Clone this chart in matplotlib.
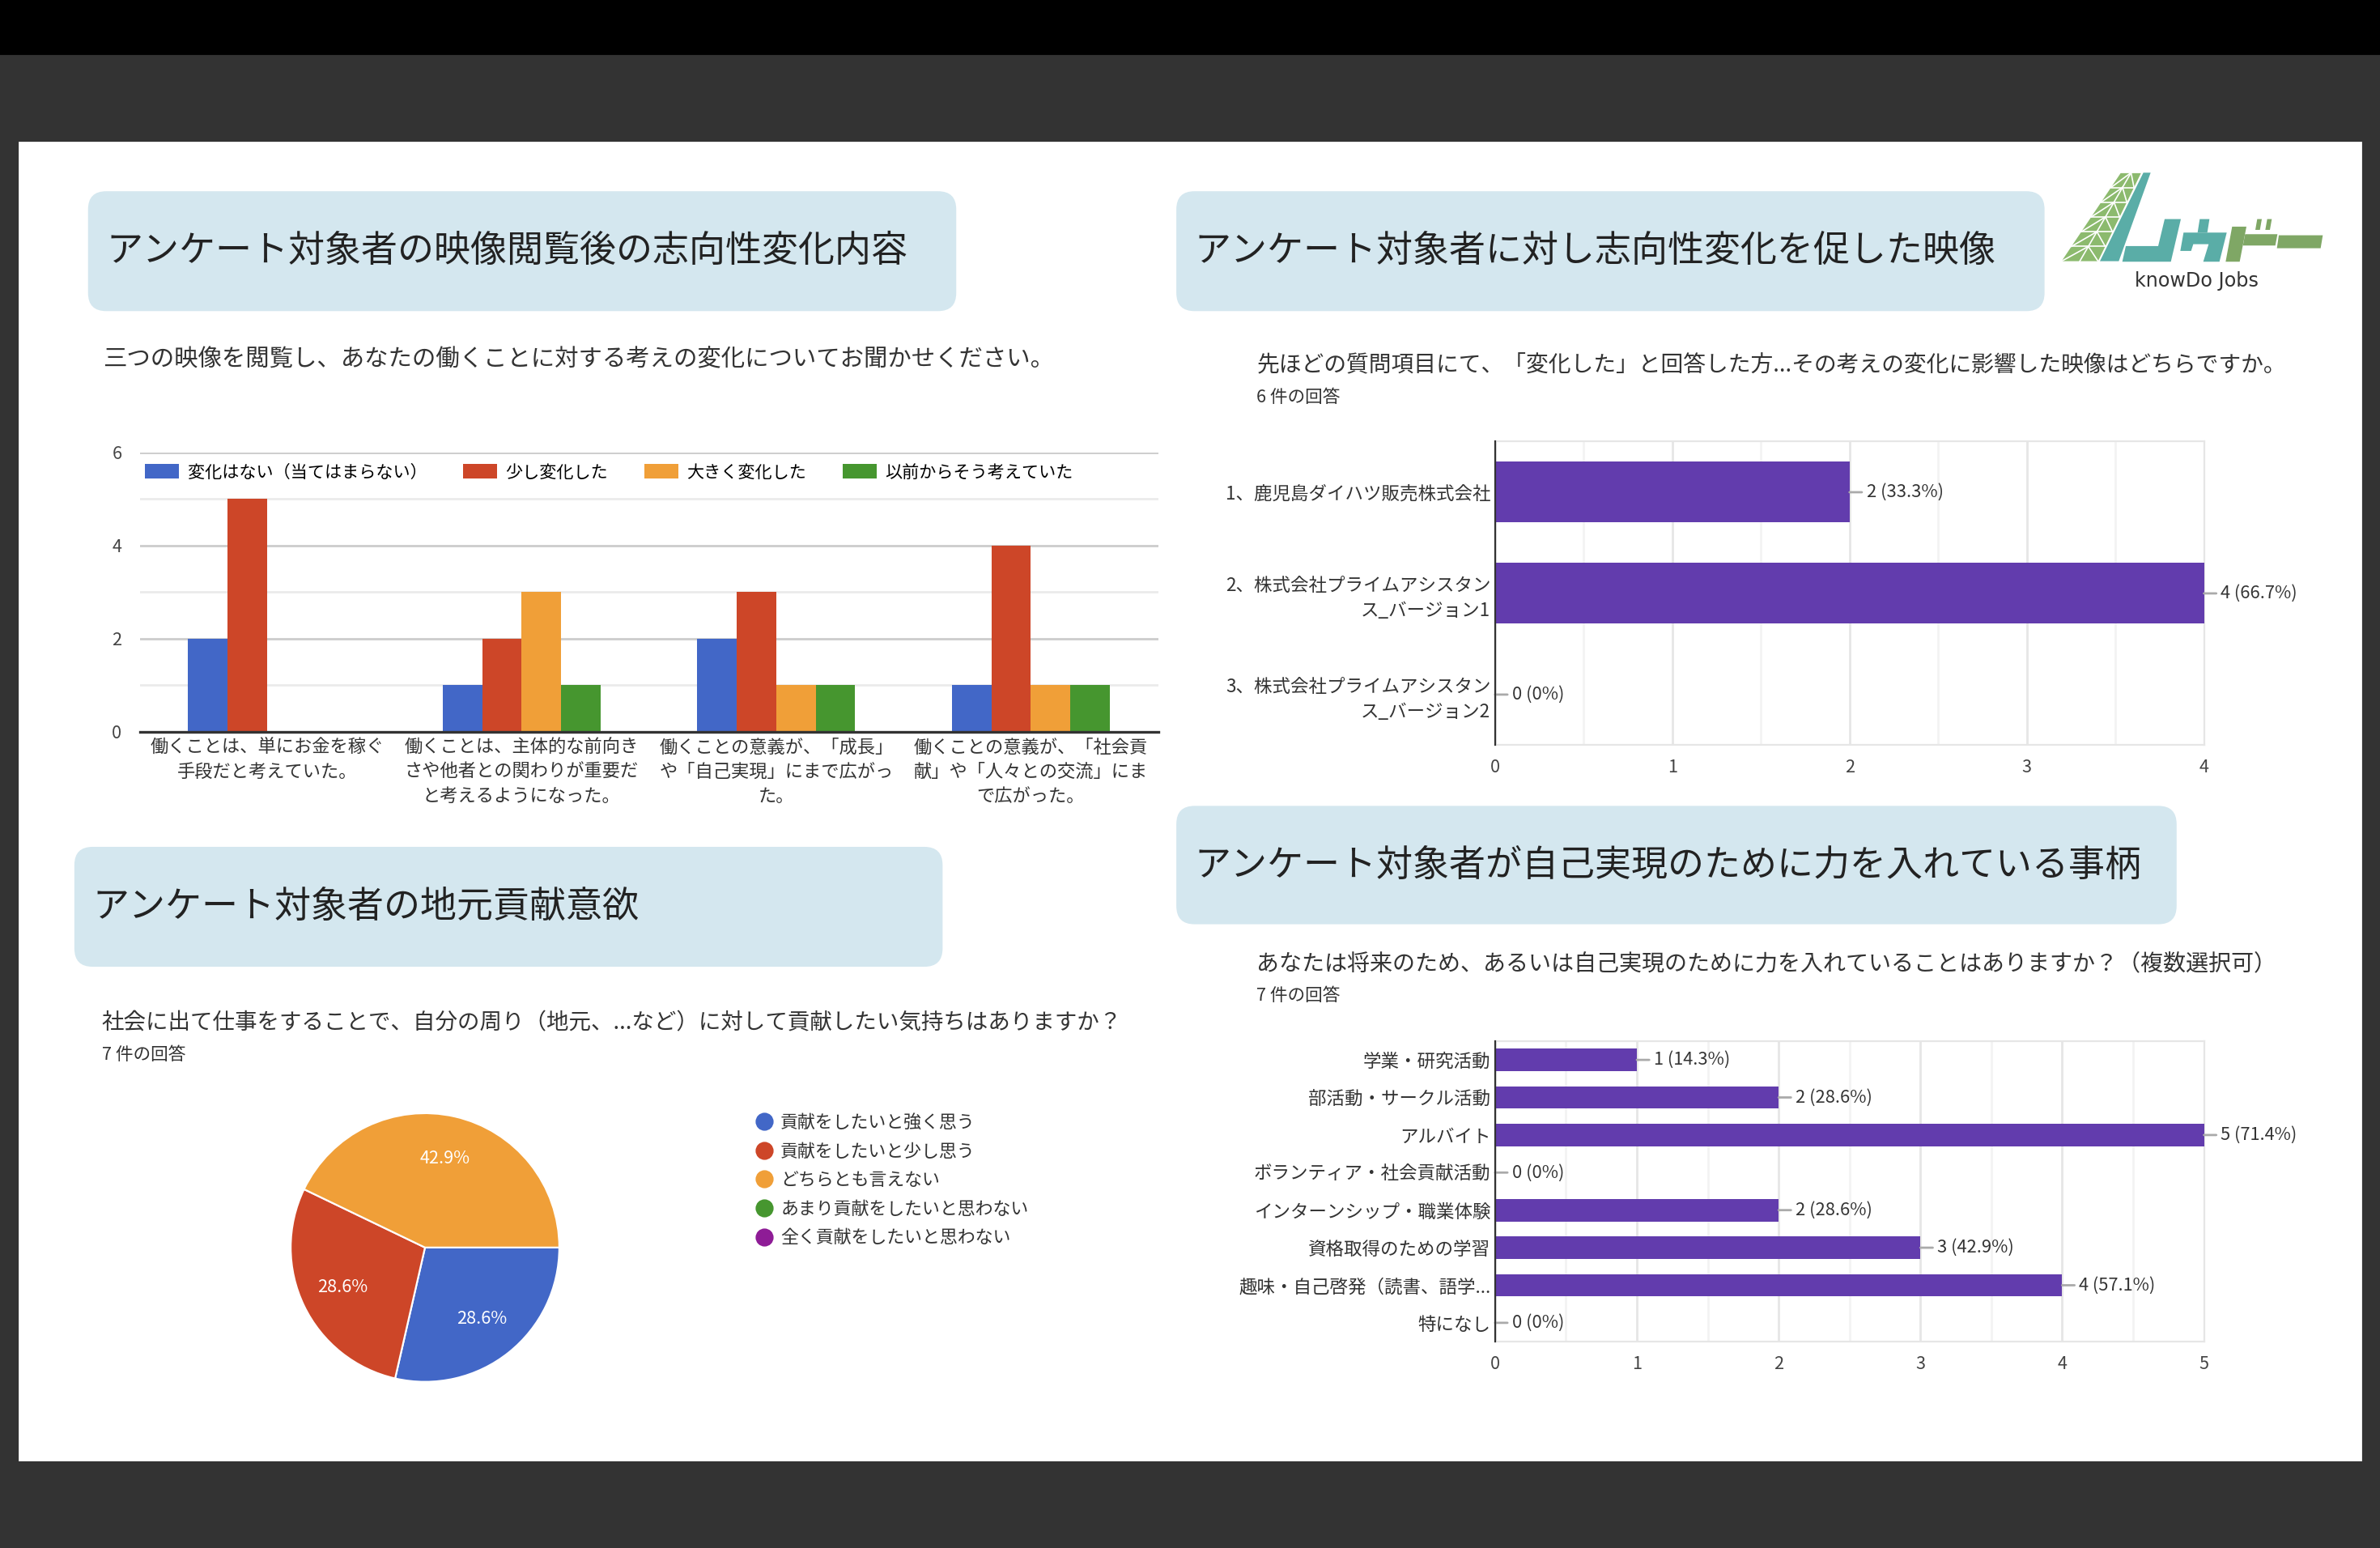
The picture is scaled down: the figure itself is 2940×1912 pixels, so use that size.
import matplotlib
matplotlib.use('Agg')
import matplotlib.pyplot as plt
from matplotlib.patches import FancyBboxPatch, Rectangle, Polygon
from matplotlib.lines import Line2D
import numpy as np

plt.rcParams['font.family'] = ['Noto Sans CJK JP', 'DejaVu Sans']

# ---- data ----
change_cats = ['働くことは、単にお金を稼ぐ\n手段だと考えていた。',
               '働くことは、主体的な前向き\nさや他者との関わりが重要だ\nと考えるようになった。',
               '働くことの意義が、「成長」\nや「自己実現」にまで広がっ\nた。',
               '働くことの意義が、「社会貢\n献」や「人々との交流」にま\nで広がった。']
change_series = ['変化はない（当てはまらない）', '少し変化した', '大きく変化した', '以前からそう考えていた']
change_none = [2, 1, 2, 1]
change_little = [5, 2, 3, 4]
change_big = [0, 3, 1, 1]
change_before = [0, 1, 1, 1]

video_cats = ['1、鹿児島ダイハツ販売株式会社',
              '2、株式会社プライムアシスタン\nス_バージョン1',
              '3、株式会社プライムアシスタン\nス_バージョン2']
video_counts = [2, 4, 0]
video_total = 6

effort_cats = ['学業・研究活動', '部活動・サークル活動', 'アルバイト', 'ボランティア・社会貢献活動',
               'インターンシップ・職業体験', '資格取得のための学習', '趣味・自己啓発（読書、語学...', '特になし']
effort_counts = [1, 2, 5, 0, 2, 3, 4, 0]
effort_total = 7

local_labels = ['貢献をしたいと強く思う', '貢献をしたいと少し思う', 'どちらとも言えない',
                'あまり貢献をしたいと思わない', '全く貢献をしたいと思わない']
local_counts = [2, 2, 3, 0, 0]
local_total = 7

BLUE, RED, ORANGE, GREEN, PURPLE = '#4267c7', '#cd4628', '#f09f38', '#46962f', '#8e1c96'
BAR = '#623cad'
BOX = '#d4e7ef'

W, H = 1568, 1020


def rect(x0, y0, x1, y1):
    return [x0 / W, 1 - y1 / H, (x1 - x0) / W, (y1 - y0) / H]


fig = plt.figure(figsize=(14.7, 9.56), dpi=200, facecolor='#333333')
bg = fig.add_axes([0, 0, 1, 1], zorder=-10)
bg.set_xlim(0, W)
bg.set_ylim(H, 0)
bg.axis('off')
bg.add_patch(Rectangle((0, 0), W, 35, color='black'))
bg.add_patch(Rectangle((13, 94), 1542, 868, color='white'))


def title_box(x0, y0, x1, y1, text):
    r = 12
    bg.add_patch(FancyBboxPatch((x0 + r, y0 + r), x1 - x0 - 2 * r, y1 - y0 - 2 * r,
                                boxstyle='round,pad=%d' % r, fc=BOX, ec='none'))
    bg.text(x0 + 12, (y0 + y1) / 2, text, fontsize=16.2, va='center', color='#222222')


title_box(58, 126, 630, 205, 'アンケート対象者の映像閲覧後の志向性変化内容')
title_box(775, 126, 1347, 205, 'アンケート対象者に対し志向性変化を促した映像')
title_box(49, 558, 621, 637, 'アンケート対象者の地元貢献意欲')
title_box(775, 531, 1434, 609, 'アンケート対象者が自己実現のために力を入れている事柄')

bg.text(68, 237, '三つの映像を閲覧し、あなたの働くことに対する考えの変化についてお聞かせください。',
        fontsize=10.6, va='center', color='#333333')
bg.text(828, 241, '先ほどの質問項目にて、「変化した」と回答した方...その考えの変化に影響した映像はどちらですか。',
        fontsize=10, va='center', color='#333333')
bg.text(828, 262, '%d 件の回答' % video_total, fontsize=7.8, va='center', color='#333333')
bg.text(67, 674, '社会に出て仕事をすることで、自分の周り（地元、...など）に対して貢献したい気持ちはありますか？',
        fontsize=9.9, va='center', color='#333333')
bg.text(67, 695, '%d 件の回答' % local_total, fontsize=7.8, va='center', color='#333333')
bg.text(828, 635, 'あなたは将来のため、あるいは自己実現のために力を入れていることはありますか？（複数選択可）',
        fontsize=10.1, va='center', color='#333333')
bg.text(828, 656, '%d 件の回答' % effort_total, fontsize=7.8, va='center', color='#333333')

# ---- logo ----
def lp(pts):
    return [(1344 + x / 5.625, 106.67 + y / 5.625) for x, y in pts]

bg.add_patch(Polygon(lp([(80, 368), (215, 368), (375, 40), (300, 40)]), fc='#8cba6e', ec='none'))
for k in range(6):
    t0, t1 = k / 6, (k + 1) / 6
    def edge(t, a, b):
        return (a[0] + (b[0] - a[0]) * t, a[1] + (b[1] - a[1]) * t)
    L0, L1 = edge(t0, (80, 368), (300, 40)), edge(t1, (80, 368), (300, 40))
    R0, R1 = edge(t0, (215, 368), (375, 40)), edge(t1, (215, 368), (375, 40))
    M0 = ((L0[0] + R0[0]) / 2, L0[1])
    M1 = ((L1[0] + R1[0]) / 2, L1[1])
    for a, b in [(L1, R1), (L0, M1), (M1, R0), (M0, M1)]:
        xs, ys = zip(*lp([a, b]))
        bg.plot(xs, ys, color='white', lw=0.6)
bg.add_patch(Polygon(lp([(222, 368), (292, 368), (410, 40), (383, 40)]), fc='#5aada7', ec='none'))
bg.add_patch(Polygon(lp([(318, 312), (438, 312), (462, 212), (522, 212), (485, 370), (305, 370)]),
                     fc='#5aada7', ec='none'))
bg.add_patch(Polygon(lp([(592, 212), (628, 212), (620, 262), (584, 262)]), fc='#5aada7', ec='none'))
bg.add_patch(Polygon(lp([(532, 262), (692, 262), (665, 370), (605, 370), (625, 305), (568, 305),
                         (560, 330), (520, 330)]), fc='#5aada7', ec='none'))
bg.add_patch(Polygon(lp([(712, 240), (765, 240), (740, 370), (688, 370)]), fc='#7fa765', ec='none'))
bg.add_patch(Polygon(lp([(760, 268), (880, 268), (872, 310), (752, 310)]), fc='#7fa765', ec='none'))
bg.add_patch(Polygon(lp([(805, 212), (822, 212), (815, 252), (798, 252)]), fc='#7fa765', ec='none'))
bg.add_patch(Polygon(lp([(842, 212), (859, 212), (852, 252), (835, 252)]), fc='#7fa765', ec='none'))
bg.add_patch(Polygon(lp([(885, 272), (1048, 272), (1040, 320), (878, 320)]), fc='#7fa765', ec='none'))
bg.text(1447, 185, 'knowDo Jobs', fontsize=8.6, family='DejaVu Sans', color='#333333',
        ha='center', va='center')

# ---- chart 1: grouped bars ----
ax1 = fig.add_axes(rect(92, 298, 763, 482))
ax1.set_facecolor('none')
x = np.arange(len(change_cats))
w = 0.155
for k, (vals, col, lab) in enumerate(zip([change_none, change_little, change_big, change_before],
                                         [BLUE, RED, ORANGE, GREEN], change_series)):
    ax1.bar(x + (k - 1.5) * w, vals, w, color=col, label=lab, lw=0, zorder=3)
ax1.set_xlim(-0.5, 3.5)
ax1.set_ylim(0, 6)
ax1.set_yticks([0, 2, 4, 6])
ax1.set_yticks([1, 3, 5], minor=True)
ax1.grid(axis='y', which='major', color='#cccccc', lw=1, zorder=0)
ax1.grid(axis='y', which='minor', color='#ebebeb', lw=1, zorder=0)
for s in ['top', 'right', 'left']:
    ax1.spines[s].set_visible(False)
ax1.spines['bottom'].set_color('#333333')
ax1.spines['bottom'].set_linewidth(1.2)
ax1.spines['bottom'].set_zorder(4)
ax1.set_xticks(x)
ax1.set_xticklabels(change_cats, fontsize=8.0, linespacing=1.4, color='#333333')
ax1.tick_params(axis='x', length=0, pad=3)
ax1.tick_params(axis='y', which='both', length=0, pad=8, labelsize=7.8, labelcolor='#444444')
ax1.legend(loc='upper left', bbox_to_anchor=(0, 0.978), ncol=4, frameon=False, fontsize=7.6,
           handlelength=2.0, handleheight=0.9, handletextpad=0.5, columnspacing=2.1,
           borderaxespad=0, borderpad=0.3)


def pct_label(v, total):
    if v == 0:
        return '0 (0%)'
    return '%d (%.1f%%)' % (v, v / total * 100)


def hbar(ax, cats, counts, total, xmax):
    y = np.arange(len(cats))
    ax.set_facecolor('none')
    ax.barh(y, counts, 0.6, color=BAR, lw=0, zorder=3)
    ax.set_ylim(len(cats) - 0.5, -0.5)
    ax.set_xlim(0, xmax)
    ax.set_xticks(range(xmax + 1))
    ax.set_xticks(np.arange(0.5, xmax, 1), minor=True)
    ax.grid(axis='x', which='major', color='#e6e6e6', lw=1, zorder=0)
    ax.grid(axis='x', which='minor', color='#f3f3f3', lw=1, zorder=0)
    for s in ['top', 'right', 'bottom']:
        ax.spines[s].set_color('#e6e6e6')
    ax.spines['left'].set_color('#333333')
    ax.spines['left'].set_zorder(4)
    ax.set_yticks(y)
    ax.set_yticklabels(cats, fontsize=8.1, color='#333333', linespacing=1.4)
    ax.tick_params(axis='y', length=0, pad=2)
    ax.tick_params(axis='x', which='both', length=0, pad=6, labelsize=7.8, labelcolor='#444444')
    for i, v in enumerate(counts):
        ax.annotate(pct_label(v, total), xy=(v, i), xytext=(7.5, 0), textcoords='offset points',
                    va='center', ha='left', fontsize=7.9, color='#333333', annotation_clip=False,
                    arrowprops=dict(arrowstyle='-', color='#aaaaaa', lw=1, shrinkA=0, shrinkB=0))


ax2 = fig.add_axes(rect(985, 291, 1452, 491))
hbar(ax2, video_cats, video_counts, video_total, 4)

ax4 = fig.add_axes(rect(985, 686, 1452, 884))
hbar(ax4, effort_cats, effort_counts, effort_total, 5)

# ---- pie ----
r = 88.5
cx, cy = 280, 822
axp = fig.add_axes(rect(cx - 1.1 * r, cy - 1.1 * r, cx + 1.1 * r, cy + 1.1 * r))
pie_cols = [BLUE, RED, ORANGE, GREEN, PURPLE]
nz = [i for i, v in enumerate(local_counts) if v > 0]
axp.pie([local_counts[i] for i in nz], colors=[pie_cols[i] for i in nz], startangle=0,
        counterclock=False, autopct='%.1f%%', pctdistance=0.68,
        wedgeprops=dict(edgecolor='white', linewidth=0.8),
        textprops=dict(color='white', fontsize=7.8))
axp.set_xlim(-1.1, 1.1)
axp.set_ylim(-1.1, 1.1)

handles = [Line2D([], [], marker='o', ls='', color=c, markersize=7) for c in pie_cols]
bg.legend(handles, local_labels, loc='upper left', bbox_to_anchor=(499, 734),
          bbox_transform=bg.transData, frameon=False, fontsize=7.9, handlelength=0.8,
          handletextpad=0.5, labelspacing=0.62, borderpad=0, borderaxespad=0,
          labelcolor='#333333')

fig.savefig('out.png', dpi=200, facecolor=fig.get_facecolor())
